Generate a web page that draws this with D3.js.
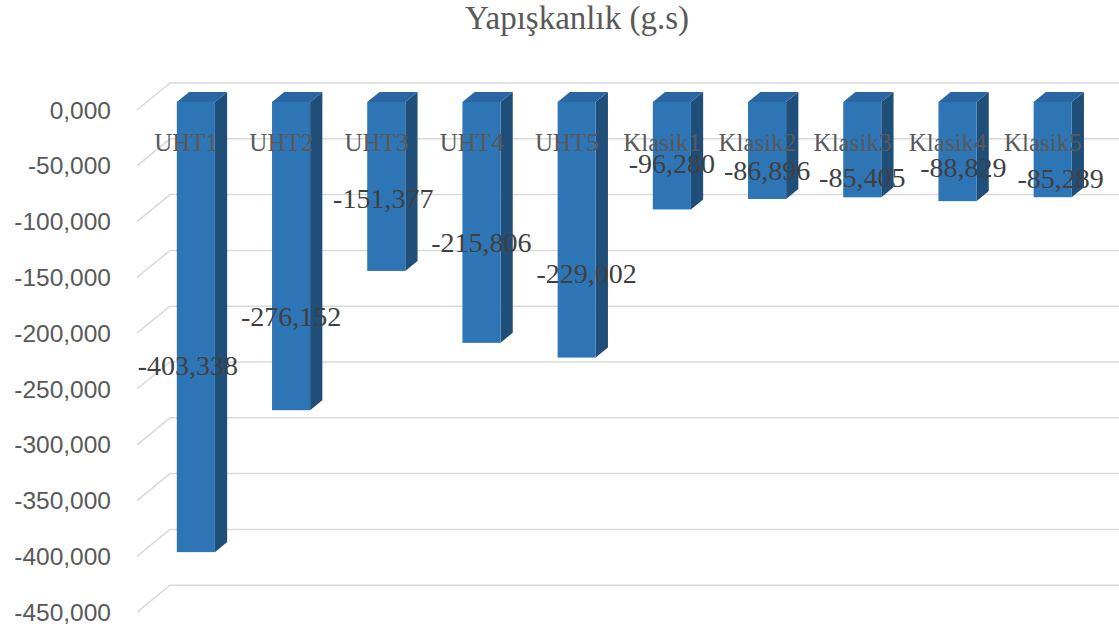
<!DOCTYPE html>
<html>
<head>
<meta charset="utf-8">
<script src="https://cdn.jsdelivr.net/npm/d3@7"></script>
<style>
  html, body { margin: 0; padding: 0; background: #fff; }
  svg { display: block; }
</style>
</head>
<body>
<svg id="chart" width="1119" height="633"></svg>
<script>
// Adhesiveness (g.s) per sample
const categories = ["UHT1", "UHT2", "UHT3", "UHT4", "UHT5", "Klasik1", "Klasik2", "Klasik3", "Klasik4", "Klasik5"];
const values = [-403.338, -276.152, -151.377, -215.806, -229.002, -96.280, -86.896, -85.405, -88.829, -85.289];
const tickValues = [0, -50, -100, -150, -200, -250, -300, -350, -400, -450];
const titleText = "Yapışkanlık (g.s)";

// Label placement (screen y of each value label, small x nudges)
const valueLabelY = [365, 316, 198, 242, 273, 163, 170, 177, 167, 178];
const valueLabelDx = [-8, 0, -3, 0, 10, 0, 0, 0, 6, 8];

const W = 1119, H = 633;
const svg = d3.select("#chart");

const fmt = d3.formatLocale({ decimal: ",", thousands: ".", grouping: [3], currency: ["", ""], minus: "-" }).format(".3f");

// Oblique 3D projection: depth 0 = front plane, 1 = back wall
const DX = 33, DY = -27;
const y = d3.scaleLinear().domain([-450, 0]).range([110 + 450 * 1.116, 110]);
const x = d3.scaleBand().domain(categories).range([138.5, 1090.5])
  .paddingInner(0.6).paddingOuter(0.3);
const proj = (px, v, d) => [px + d * DX, y(v) + d * DY];

const plotLeft = 137;

// Gridlines: side-wall diagonal + back-wall horizontal
const grid = svg.append("g");
tickValues.forEach(t => {
  const a = proj(plotLeft, t, 0), b = proj(plotLeft, t, 1);
  grid.append("path")
    .attr("d", `M${a[0]},${a[1]}L${b[0]},${b[1]}L${W},${b[1]}`)
    .attr("fill", "none")
    .attr("stroke", "#d9d9d9")
    .attr("stroke-width", 1.5);
});

// Axis tick labels
svg.append("g").selectAll("text").data(tickValues).join("text")
  .attr("x", 111)
  .attr("y", d => y(d))
  .attr("dy", "0.35em")
  .attr("text-anchor", "end")
  .attr("font-family", "'Liberation Sans', Arial, sans-serif")
  .attr("font-size", 24.5)
  .attr("fill", "#595959")
  .text(d => fmt(d));

// Bars
const D0 = 0.296, D1 = 0.667;
const bars = svg.append("g");
categories.forEach((c, i) => {
  const v = values[i];
  const x0 = x(c), x1 = x(c) + x.bandwidth();
  const pts = arr => arr.map(p => p.join(",")).join(" ");
  // side face
  bars.append("polygon")
    .attr("points", pts([proj(x1, 0, D0), proj(x1, 0, D1), proj(x1, v, D1), proj(x1, v, D0)]))
    .attr("fill", "#1f4e79");
  // top face
  bars.append("polygon")
    .attr("points", pts([proj(x0, 0, D0), proj(x1, 0, D0), proj(x1, 0, D1), proj(x0, 0, D1)]))
    .attr("fill", "#2a66a3");
  // front face
  const f0 = proj(x0, 0, D0), f1 = proj(x1, v, D0);
  bars.append("rect")
    .attr("x", f0[0]).attr("y", f0[1])
    .attr("width", f1[0] - f0[0]).attr("height", f1[1] - f0[1])
    .attr("fill", "#2e75b6");
});

// Category labels (front plane, centred on bar)
svg.append("g").selectAll("text").data(categories).join("text")
  .attr("x", d => x(d) + x.bandwidth() / 2)
  .attr("y", 142)
  .attr("dy", "0.35em")
  .attr("text-anchor", "middle")
  .attr("font-family", "'Liberation Serif', 'Times New Roman', serif")
  .attr("font-size", 25)
  .attr("fill", "#595959")
  .text(d => d);

// Value labels
svg.append("g").selectAll("text").data(values).join("text")
  .attr("x", (d, i) => x(categories[i]) + x.bandwidth() / 2 + D0 * DX + valueLabelDx[i])
  .attr("y", (d, i) => valueLabelY[i])
  .attr("dy", "0.35em")
  .attr("text-anchor", "middle")
  .attr("font-family", "'Liberation Serif', 'Times New Roman', serif")
  .attr("font-size", 28)
  .attr("fill", "#404040")
  .text(d => fmt(d));

// Title
svg.append("text")
  .attr("x", 577)
  .attr("y", 29)
  .attr("text-anchor", "middle")
  .attr("font-family", "'Liberation Serif', 'Times New Roman', serif")
  .attr("font-size", 33)
  .attr("fill", "#595959")
  .text(titleText);
</script>
</body>
</html>
